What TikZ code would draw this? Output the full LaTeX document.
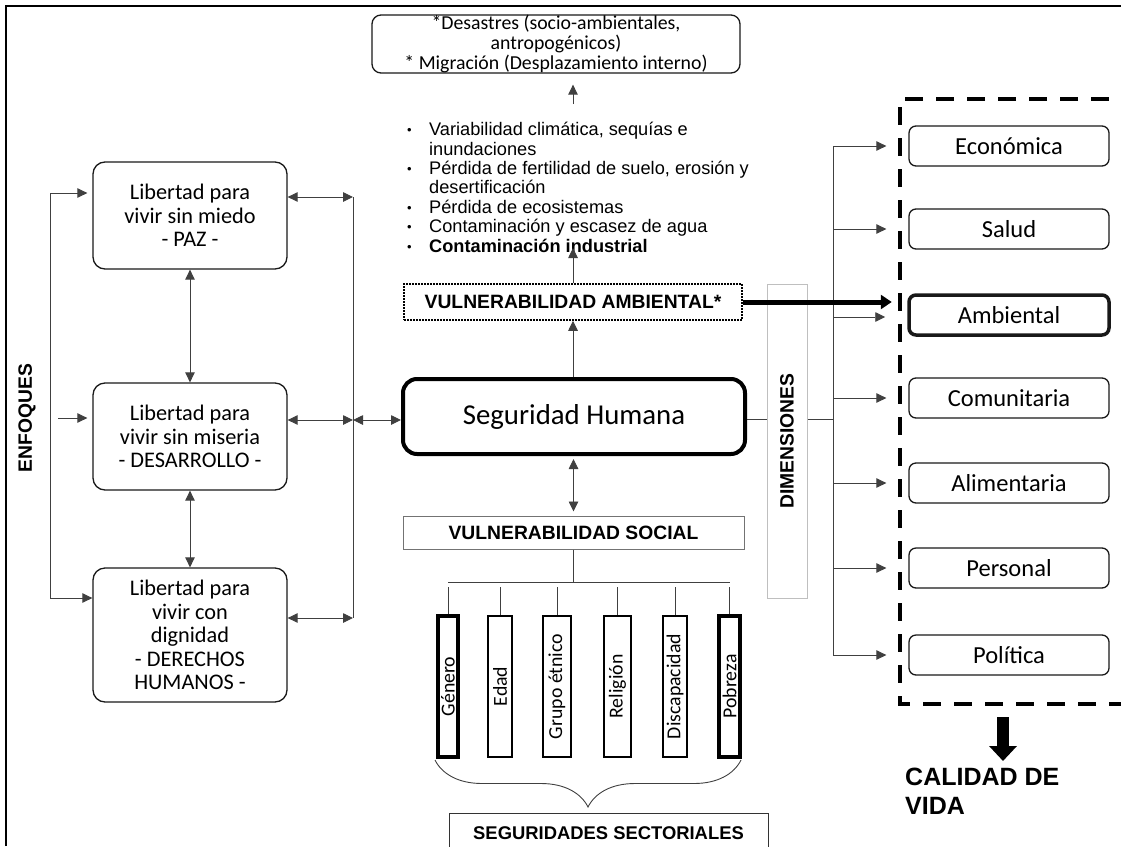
\documentclass[tikz,border=0pt]{standalone}
\usepackage{fontspec}
\setmainfont{Carlito}
\newfontfamily\arial{Liberation Sans}
\usetikzlibrary{arrows.meta,decorations.pathreplacing,calc}

\newcommand{\bul}{\hspace*{3pt}\raisebox{1pt}{\fontsize{13}{13}\selectfont\textbullet}}

\begin{document}
\begin{tikzpicture}[x=1pt,y=-1pt,
  conn/.style={draw=black!75, line width=0.9pt},
  tip/.style={-{Triangle[length=10pt,width=9.5pt]}},
  bitip/.style={{Triangle[length=10pt,width=9.5pt]}-{Triangle[length=10pt,width=9.5pt]}},
  rbox/.style={draw=black!90, rounded corners=12pt, line width=1.3pt, align=center, inner sep=0pt},
  dimbox/.style={draw=black!90, rounded corners=7pt, line width=1.3pt, minimum width=200pt,
    minimum height=40pt, inner sep=0pt, font=\fontsize{24.5}{26}\selectfont},
  sector/.style={draw=black, line width=1.3pt, rotate=90, minimum width=141pt, inner sep=0pt,
    font=\fontsize{19.8}{20}\selectfont},
  caps/.style={font=\arial\bfseries\fontsize{19.3}{20}\selectfont},
]
\useasboundingbox (0,0) rectangle (1121,846);

% outer frame (left and top edges)
\draw[line width=2pt] (6,846) -- (6,6) -- (1121,6);

% consequences at the top
\node[rbox, rounded corners=9pt, minimum width=368pt, minimum height=58pt,
  font=\fontsize{19.8}{19.6}\selectfont] (dis) at (556,44)
  {*Desastres (socio-ambientales,\\ antropogénicos)\\ * Migración (Desplazamiento interno)};

% environmental factors
\node[anchor=north west, inner sep=0pt, font=\arial\fontsize{18.2}{19.4}\selectfont] (fac) at (404,122)
  {\begin{tabular}{@{}p{25pt}@{}l@{}}
   \bul & Variabilidad climática, sequías e\\
        & inundaciones\\
   \bul & Pérdida de fertilidad de suelo, erosión y\\
        & desertificación\\
   \bul & Pérdida de ecosistemas\\
   \bul & Contaminación y escasez de agua\\
   \bul & \textbf{Contaminación industrial}
   \end{tabular}};

\node[draw, dash pattern=on 1.6pt off 1.4pt, line width=1.5pt, minimum width=338pt,
  minimum height=36pt, inner sep=0pt, caps] (va) at (573,302) {VULNERABILIDAD AMBIENTAL*};

\node[draw=black, rounded corners=14pt, line width=4pt, minimum width=342pt, minimum height=75pt,
  inner sep=0pt, font=\fontsize{28.8}{30}\selectfont] (sh) at (574,416.5) {Seguridad Humana};

\node[draw=black!55, line width=1pt, minimum width=341pt, minimum height=33pt, inner sep=0pt,
  caps] (vs) at (573.5,532.5) {VULNERABILIDAD SOCIAL};

% approaches
\node[rbox, minimum width=194pt, minimum height=107pt, font=\fontsize{22.3}{23.5}\selectfont]
  (b1) at (190,215.5) {Libertad para\\ vivir sin miedo\\ - PAZ -};
\node[rbox, minimum width=194pt, minimum height=107pt, font=\fontsize{22.3}{23.5}\selectfont]
  (b2) at (190,436.5) {Libertad para\\ vivir sin miseria\\ - DESARROLLO -};
\node[rbox, minimum width=194pt, minimum height=134pt, font=\fontsize{22.3}{23.5}\selectfont]
  (b3) at (190,635) {Libertad para\\ vivir con\\ dignidad\\ - DERECHOS\\ HUMANOS -};

\node[rotate=90, inner sep=0pt, caps] (enf) at (27,418) {ENFOQUES};

% links between approaches
\draw[conn, bitip] (b1.south) -- (b2.north);
\draw[conn, bitip] (b2.south) -- (b3.north);

\coordinate (la) at (50,193);
\coordinate (lb) at (50,598);
\coordinate (lm) at (58,418);
\draw[conn] (la) -- (lb);
\draw[conn, tip, shorten >=5pt] (la) -- (la -| b1.west);
\draw[conn, tip, shorten >=5pt] (lm) -- (lm -| b2.west);
\draw[conn, tip] (lb) -- (lb -| b3.west);

\coordinate (ra) at (353,197);
\coordinate (rm) at (353,420);
\coordinate (rb) at (353,618);
\draw[conn] (ra) -- (rb);
\draw[conn, bitip] (ra -| b1.east) -- (ra);
\draw[conn, bitip] (rm -| b2.east) -- (rm);
\draw[conn, bitip] (rb -| b3.east) -- (rb);
\draw[conn, bitip] (rm) -- (rm -| sh.west);

% central column
\coordinate (bt) at (573,104);
\coordinate (bb) at (573,248);
\draw[conn, tip, shorten >=11pt] (bt) -- (bt |- dis.south);
\draw[conn, tip] (va.north) -- (bb);
\draw[conn, tip] (sh.north -| va.north) -- (va.south);
\draw[conn, bitip, shorten <=3pt, shorten >=4pt] (sh.south -| vs.north) -- (vs.north);

% sectoral securities
\node[sector, minimum height=20pt, line width=4pt] (gen) at (448,686.5) {Género};
\node[sector, minimum height=24pt] (eda) at (500,686.5) {Edad};
\node[sector, minimum height=28pt] (gru) at (557,686.5) {Grupo étnico};
\node[sector, minimum height=27pt] (rel) at (617.5,686.5) {Religión};
\node[sector, minimum height=24pt] (dsc) at (675,686.5) {Discapacidad};
\node[sector, minimum height=21pt, line width=4pt] (pob) at (729.5,686.5) {Pobreza};

\coordinate (hb) at (573,582);
\draw[conn] (vs.south -| hb) -- (hb);
\draw[conn] (gen.east |- hb) -- (pob.east |- hb);
\foreach \s in {gen,eda,gru,rel,dsc,pob}
  \draw[conn, shorten <=5pt] (\s.east |- hb) -- (\s.east);

\draw[conn, decorate, decoration={brace, mirror, amplitude=47pt}] (435,760) -- (741,760);

\node[draw=black!80, line width=1pt, minimum width=319pt, minimum height=40pt, inner sep=0pt,
  font=\arial\bfseries\fontsize{18.4}{20}\selectfont] (ss) at (608.5,833) {SEGURIDADES SECTORIALES};

% dimensions
\node[draw=black!25, line width=1pt, rotate=90, minimum width=314pt, minimum height=40pt,
  inner sep=0pt, caps] (dim) at (787,441) {DIMENSIONES};

\coordinate (j) at (833,419);
\draw[conn] (sh.east |- j) -- (dim.north |- j);
\draw[conn] (dim.south |- j) -- (j);

\node[dimbox] (eco) at (1009,146) {Económica};
\node[dimbox] (sal) at (1009,229) {Salud};
\node[dimbox, line width=3.5pt] (amb) at (1009,315) {Ambiental};
\node[dimbox] (com) at (1009,398) {Comunitaria};
\node[dimbox] (ali) at (1009,483) {Alimentaria};
\node[dimbox] (per) at (1009,568) {Personal};
\node[dimbox] (pol) at (1009,655) {Política};

\draw[conn] (j |- eco.west) -- (j |- pol.west);
\foreach \d in {eco,sal,com,ali,per,pol}
  \draw[conn, tip, shorten >=22pt] (j |- \d.west) -- (\d.west);
\draw[conn, tip, shorten >=22pt] ([yshift=-2pt]j |- amb.west) -- ([yshift=-2pt]amb.west);

% thick link from environmental vulnerability
\draw[line width=5pt, -{Triangle[length=11pt,width=14pt]}] (va.east) -- ++(149,0);

% frame around the dimensions
\draw[line width=4pt, dash pattern=on 18pt off 13pt] (1140,99) -- (900,99) -- (900,704) -- (1140,704);

\coordinate (qa) at (1003,717);
\coordinate (qb) at (1003,761);
\draw[line width=12pt, -{Triangle[length=15pt,width=27pt]}] (qa) -- (qb);

\node[anchor=north west, inner sep=0pt, align=left,
  font=\arial\bfseries\fontsize{25}{29}\selectfont] (cv) at (905,768) {CALIDAD DE\\ VIDA};
\end{tikzpicture}
\end{document}
